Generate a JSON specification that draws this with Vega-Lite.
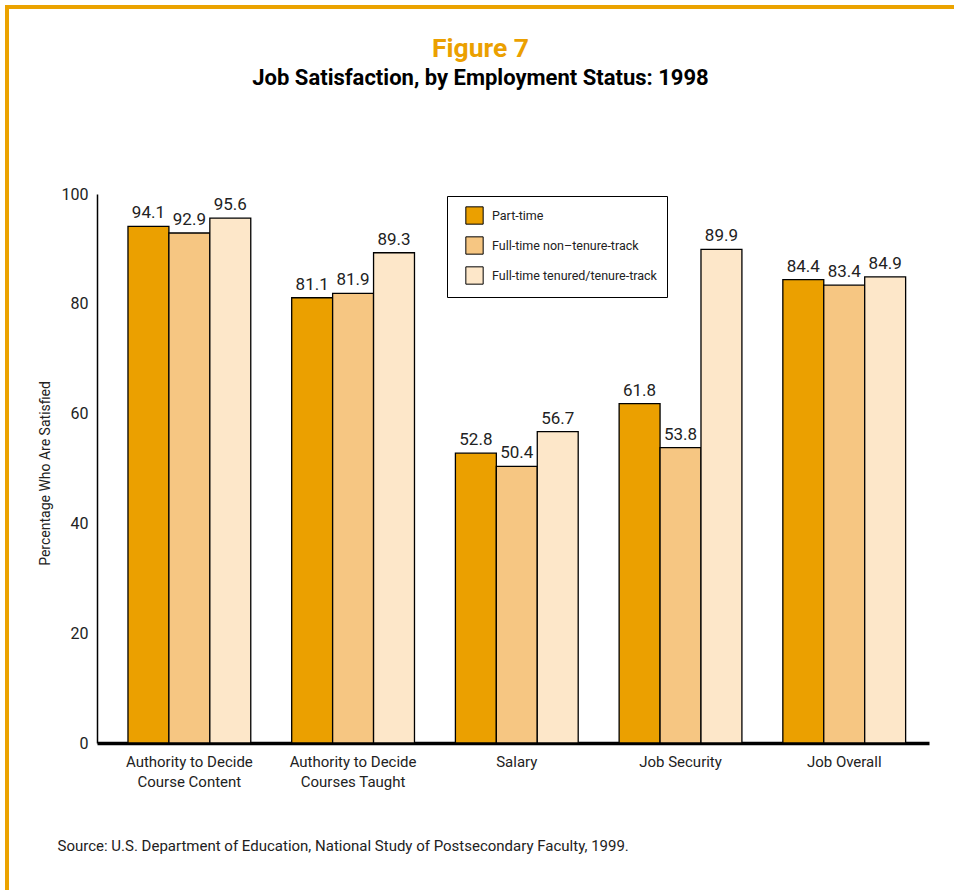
{
  "$schema": "https://vega.github.io/schema/vega-lite/v6.json",
  "width": 947,
  "height": 883,
  "autosize": {"type": "none"},
  "padding": {"left": 7, "top": 7, "right": 0, "bottom": 0},
  "background": "white",
  "title": {
    "text": "Figure 7",
    "subtitle": "Job Satisfaction, by Employment Status: 1998",
    "anchor": "middle",
    "frame": "group",
    "offset": -82,
    "font": "Roboto, sans-serif",
    "fontSize": 26.5,
    "fontWeight": "bold",
    "color": "#EBA000",
    "subtitleFont": "Roboto, sans-serif",
    "subtitleFontSize": 22,
    "subtitleFontWeight": "bold",
    "subtitleColor": "#000000",
    "subtitlePadding": 6
  },
  "data": {
    "values": [
      {"measure": "Authority to Decide|Course Content", "status": "Part-time", "pct": 94.1},
      {"measure": "Authority to Decide|Course Content", "status": "Full-time non–tenure-track", "pct": 92.9},
      {"measure": "Authority to Decide|Course Content", "status": "Full-time tenured/tenure-track", "pct": 95.6},
      {"measure": "Authority to Decide|Courses Taught", "status": "Part-time", "pct": 81.1},
      {"measure": "Authority to Decide|Courses Taught", "status": "Full-time non–tenure-track", "pct": 81.9},
      {"measure": "Authority to Decide|Courses Taught", "status": "Full-time tenured/tenure-track", "pct": 89.3},
      {"measure": "Salary", "status": "Part-time", "pct": 52.8},
      {"measure": "Salary", "status": "Full-time non–tenure-track", "pct": 50.4},
      {"measure": "Salary", "status": "Full-time tenured/tenure-track", "pct": 56.7},
      {"measure": "Job Security", "status": "Part-time", "pct": 61.8},
      {"measure": "Job Security", "status": "Full-time non–tenure-track", "pct": 53.8},
      {"measure": "Job Security", "status": "Full-time tenured/tenure-track", "pct": 89.9},
      {"measure": "Job Overall", "status": "Part-time", "pct": 84.4},
      {"measure": "Job Overall", "status": "Full-time non–tenure-track", "pct": 83.4},
      {"measure": "Job Overall", "status": "Full-time tenured/tenure-track", "pct": 84.9}
    ]
  },
  "encoding": {
    "x": {
      "field": "measure",
      "type": "nominal",
      "sort": null,
      "scale": {"range": [90, 922], "paddingInner": 0.25, "paddingOuter": 0.166, "align": 0.57},
      "axis": {
        "orient": "bottom",
        "offset": -147,
        "title": "Source: U.S. Department of Education, National Study of Postsecondary Faculty, 1999.",
        "titleX": 50,
        "titleY": 102,
        "titleAlign": "left",
        "titleAnchor": null,
        "titleBaseline": "middle",
        "titleAngle": 0,
        "titleFont": "Roboto, sans-serif",
        "titleFontSize": 15,
        "titleFontWeight": "normal",
        "titleColor": "#222222",
        "labelExpr": "split(datum.label, '|')",
        "labelAngle": 0,
        "labelFont": "Roboto, sans-serif",
        "labelFontSize": 15,
        "labelColor": "#222222",
        "labelLineHeight": 20,
        "labelPadding": 11,
        "labelBaseline": "top",
        "ticks": false,
        "domainColor": "#000000",
        "domainWidth": 3.5,
        "grid": false
      }
    },
    "xOffset": {
      "field": "status",
      "type": "nominal",
      "sort": ["Part-time", "Full-time non–tenure-track", "Full-time tenured/tenure-track"],
      "scale": {"paddingInner": 0, "paddingOuter": 0}
    },
    "y": {
      "field": "pct",
      "type": "quantitative",
      "scale": {"domain": [0, 100], "range": [736, 187], "nice": false},
      "axis": {
        "orient": "left",
        "offset": -90,
        "values": [0, 20, 40, 60, 80, 100],
        "title": "Percentage Who Are Satisfied",
        "titleX": -52,
        "titleY": 466,
        "titleAngle": -90,
        "titleAlign": "center",
        "titleAnchor": null,
        "titleBaseline": "middle",
        "titleFont": "Roboto, sans-serif",
        "titleFontSize": 14,
        "titleFontWeight": "normal",
        "titleColor": "#222222",
        "labelFont": "Roboto, sans-serif",
        "labelFontSize": 16,
        "labelColor": "#222222",
        "labelPadding": 9,
        "ticks": false,
        "grid": false,
        "domainColor": "#000000",
        "domainWidth": 1.5
      }
    }
  },
  "layer": [
    {
      "mark": {"type": "bar", "stroke": "#000000", "strokeWidth": 1.3},
      "encoding": {
        "color": {
          "field": "status",
          "type": "nominal",
          "sort": ["Part-time", "Full-time non–tenure-track", "Full-time tenured/tenure-track"],
          "scale": {
            "domain": ["Part-time", "Full-time non–tenure-track", "Full-time tenured/tenure-track"],
            "range": ["#EBA000", "#F6C682", "#FDE7C9"]
          },
          "legend": {
            "title": null,
            "orient": "none",
            "legendX": 440,
            "legendY": 189,
            "direction": "vertical",
            "strokeColor": "#000000",
            "fillColor": "#ffffff",
            "padding": 10,
            "symbolType": "square",
            "symbolSize": 300,
            "symbolStrokeColor": "#000000",
            "symbolStrokeWidth": 1,
            "symbolOpacity": 1,
            "symbolOffset": 8,
            "labelOffset": 8,
            "labelFont": "Roboto, sans-serif",
            "labelFontSize": 12.5,
            "labelColor": "#222222",
            "labelLimit": 300,
            "rowPadding": 7
          }
        }
      }
    },
    {
      "mark": {
        "type": "text",
        "baseline": "bottom",
        "dy": -4,
        "font": "Roboto, sans-serif",
        "fontSize": 17,
        "color": "#222222"
      },
      "encoding": {
        "text": {"field": "pct", "type": "quantitative", "format": ".1f"}
      }
    }
  ],
  "config": {
    "view": {
      "stroke": "#EBA300",
      "strokeWidth": 4,
      "strokeDash": [947, 1830, 883],
      "fill": "#ffffff"
    }
  }
}
